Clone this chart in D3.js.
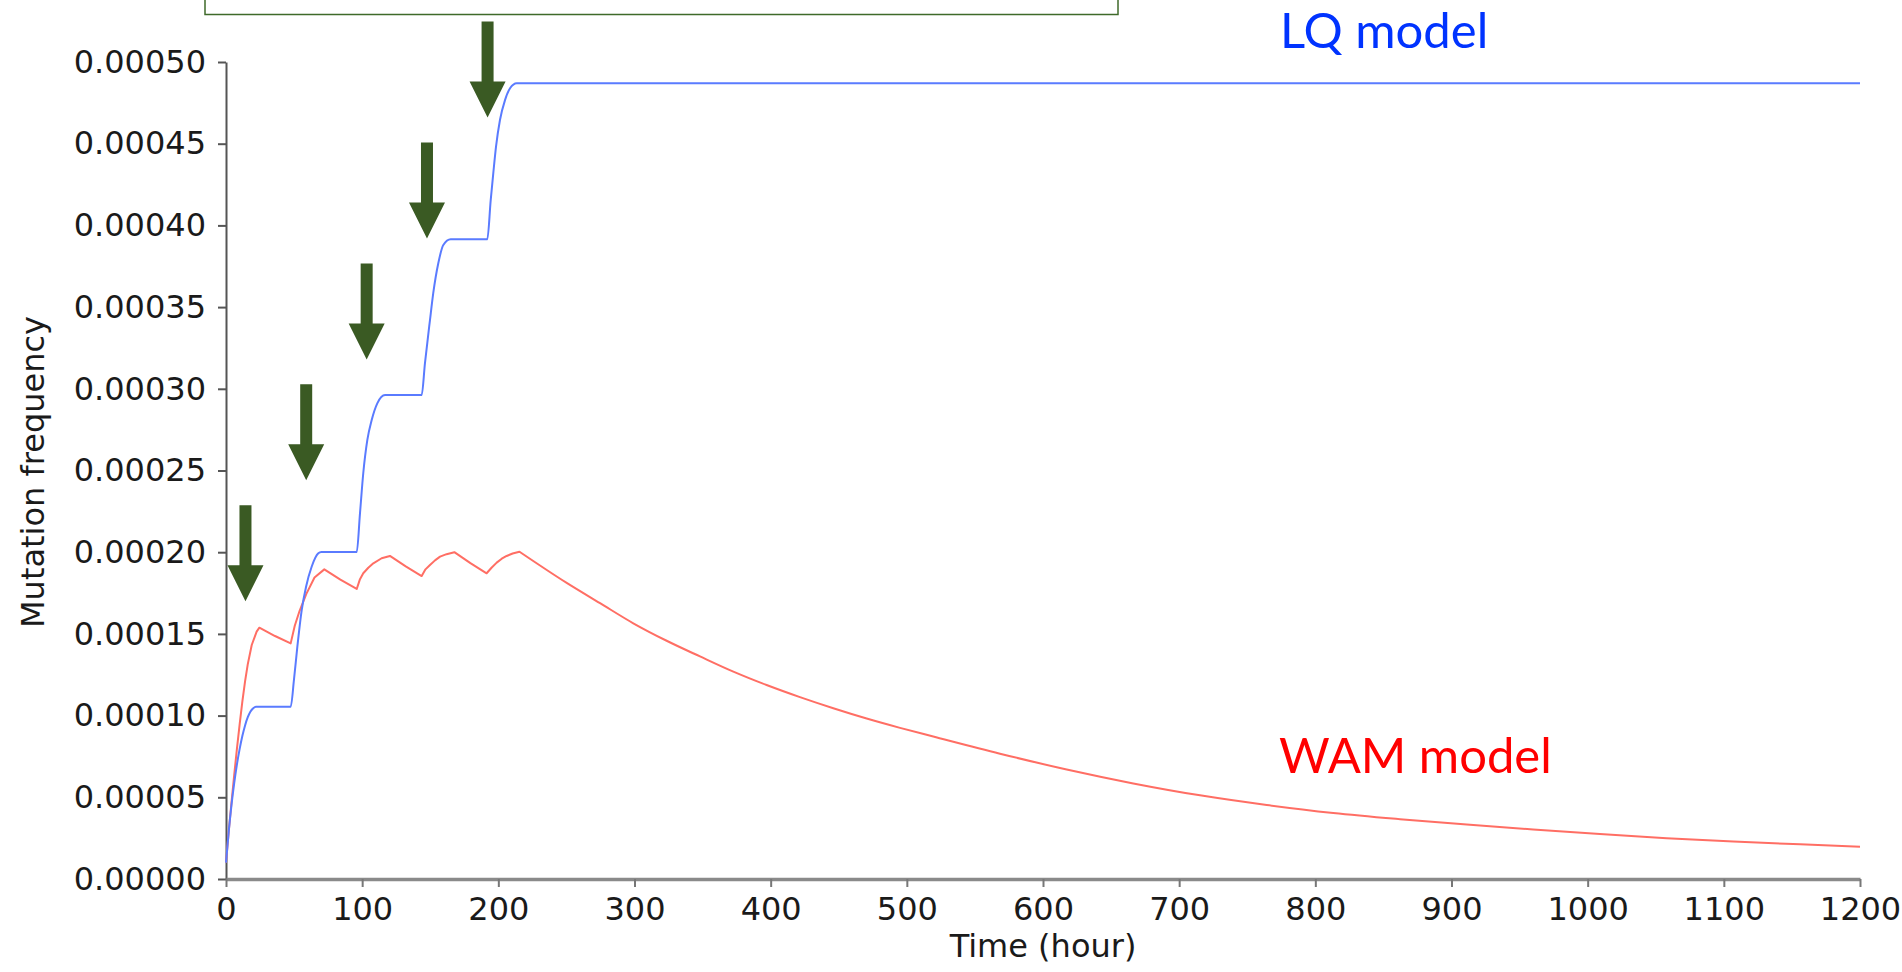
<!DOCTYPE html>
<html>
<head>
<meta charset="utf-8">
<script src="https://cdn.jsdelivr.net/npm/d3@7"></script>
<style>
  html, body { margin: 0; padding: 0; background: #ffffff; }
  svg { display: block; }
</style>
</head>
<body>
<svg id="chart" width="1902" height="972"></svg>
<script>
// ---------------- data ----------------
const xTicks = [0, 100, 200, 300, 400, 500, 600, 700, 800, 900, 1000, 1100, 1200];
const yTicks = [0, 0.00005, 0.0001, 0.00015, 0.0002, 0.00025, 0.0003, 0.00035, 0.0004, 0.00045, 0.0005];

// LQ model (blue)
const lqTime  = [0, 2, 4, 6, 8, 10, 12, 14, 16, 18, 20, 22, 47.5, 49.9, 52.4, 55.6, 58.8, 62.9, 67.8, 70,
                 96, 98.4, 100.8, 103.8, 107, 111.1, 116.8, 119,
                 143.7, 146.1, 149.8, 152.2, 155.9, 159.6, 165,
                 191.9, 194.4, 196.3, 198.3, 201.2, 204.9, 208.6, 213.5, 1200];
const lqValue = [0.00001, 0.000029, 0.000045, 0.0000585, 0.00007, 0.0000795, 0.0000875, 0.000094, 0.000099, 0.0001025, 0.0001045, 0.0001054, 0.0001054,
                 0.0001218, 0.0001422, 0.0001646, 0.0001789, 0.0001911, 0.0001993, 0.0002001,
                 0.0002001, 0.0002238, 0.0002483, 0.0002687, 0.0002809, 0.0002911, 0.0002962, 0.0002962,
                 0.0002962, 0.0003156, 0.0003421, 0.0003585, 0.0003768, 0.000388, 0.0003915,
                 0.0003915, 0.0004155, 0.000432, 0.0004482, 0.0004645, 0.0004767, 0.0004839, 0.000487, 0.000487];

// WAM model (red)
const wamTime  = [0, 2, 4, 6, 8, 10, 12, 14, 16, 18.9, 22.5, 24.5, 36, 47.5,
                  50.5, 54, 59, 65, 72.2, 84, 96,
                  98.4, 100.8, 104.5, 108.2, 114.3, 120.4, 132, 143.7,
                  146.5, 149.8, 153.5, 157.2, 162, 167.7, 179.5, 191.4,
                  195, 198.8, 202.5, 206.1, 210.5, 215.5,
                  250.2, 274.7, 299.1, 323.6, 348.1, 372.6, 397, 421.5, 446, 470.5, 495, 519.4,
                  568.4, 617.4, 666.3, 715.3, 764.3, 813.2, 862.2, 911.2, 960, 1009, 1058, 1107, 1156, 1200];
const wamValue = [0.00001, 0.000029, 0.0000465, 0.0000635, 0.0000795, 0.0000945, 0.0001085, 0.000121, 0.0001315, 0.0001432, 0.0001514, 0.0001538, 0.0001487, 0.0001442,
                  0.000155, 0.000164, 0.0001745, 0.0001845, 0.0001895, 0.0001832, 0.0001775,
                  0.0001835, 0.0001871, 0.0001905, 0.0001932, 0.0001963, 0.0001977, 0.0001913, 0.0001854,
                  0.0001895, 0.0001922, 0.000195, 0.0001973, 0.0001988, 0.0002, 0.0001933, 0.0001871,
                  0.0001905, 0.0001936, 0.000196, 0.0001977, 0.0001992, 0.0002003,
                  0.0001812, 0.0001688, 0.0001565, 0.0001458, 0.0001362, 0.0001269, 0.0001187, 0.0001113, 0.0001045, 0.0000982, 0.0000925, 0.0000872,
                  0.0000767, 0.000067, 0.0000585, 0.0000512, 0.0000453, 0.0000404, 0.0000366, 0.0000333, 0.0000303, 0.0000275, 0.000025, 0.0000229, 0.0000212, 0.0000198];

// irradiation arrows (time, value of arrow tip)
const arrowTime  = [14.3, 58.9, 103.3, 147.6, 192.1];
const arrowValue = [0.00017, 0.000244, 0.000318, 0.000392, 0.000466];

const seriesLabels = ["LQ model", "WAM model"];
const xTitle = "Time (hour)";
const yTitle = "Mutation frequency";

// ---------------- drawing ----------------
const svg = d3.select("#chart");

const x = d3.scaleLinear().domain([0, 1200]).range([226, 1860]);
const y = d3.scaleLinear().domain([0, 0.0005]).range([879, 62]);

const tickFont = "'DejaVu Sans', Verdana, sans-serif";

// top (cut-off) annotation box
svg.append("rect")
  .attr("x", 205).attr("y", -20)
  .attr("width", 913).attr("height", 34.5)
  .attr("fill", "#ffffff")
  .attr("stroke", "#3f6a2a")
  .attr("stroke-width", 1.5);

// Y axis
const yAxis = svg.append("g")
  .attr("transform", `translate(${x(0)},0)`)
  .call(d3.axisLeft(y).tickValues(yTicks).tickFormat(d3.format(".5f"))
        .tickSize(8).tickSizeOuter(0).tickPadding(12));
yAxis.select(".domain").attr("stroke", "#555").attr("stroke-width", 2);
yAxis.selectAll(".tick line").attr("stroke", "#555").attr("stroke-width", 2);
yAxis.selectAll(".tick text")
  .attr("font-family", tickFont).attr("font-size", 32).attr("fill", "#1a1a1a");

// X axis
const xAxis = svg.append("g")
  .attr("transform", `translate(0,${y(0)})`)
  .call(d3.axisBottom(x).tickValues(xTicks).tickFormat(d3.format("d"))
        .tickSize(8).tickSizeOuter(0).tickPadding(10));
xAxis.select(".domain").attr("stroke", "#8a8a8a").attr("stroke-width", 3.5);
xAxis.selectAll(".tick line").attr("stroke", "#777").attr("stroke-width", 2);
xAxis.selectAll(".tick text")
  .attr("font-family", tickFont).attr("font-size", 32).attr("fill", "#1a1a1a");

// axis titles
svg.append("text")
  .attr("x", 1043).attr("y", 957)
  .attr("text-anchor", "middle")
  .attr("font-family", tickFont).attr("font-size", 32).attr("fill", "#1a1a1a")
  .text(xTitle);

svg.append("text")
  .attr("transform", "translate(44,472) rotate(-90)")
  .attr("text-anchor", "middle")
  .attr("font-family", tickFont).attr("font-size", 32).attr("fill", "#1a1a1a")
  .text(yTitle);

// lines
const lqData = lqTime.map((t, i) => [t, lqValue[i]]);
const wamData = wamTime.map((t, i) => [t, wamValue[i]]);
const lastPeak = d3.maxIndex(wamValue);

const lineLinear = d3.line().x(d => x(d[0])).y(d => y(d[1])).curve(d3.curveLinear);
const lineMono = d3.line().x(d => x(d[0])).y(d => y(d[1])).curve(d3.curveMonotoneX);

// irradiation phase (sharp peaks) and decay phase (smooth)
svg.append("path")
  .attr("fill", "none")
  .attr("stroke", "#ff6e64")
  .attr("stroke-width", 2)
  .attr("stroke-linejoin", "round")
  .attr("d", lineLinear(wamData.slice(0, lastPeak + 1)) + lineMono(wamData.slice(lastPeak)).replace(/^M[^A-Za-z]*/, ""));

svg.append("path")
  .datum(lqData)
  .attr("fill", "none")
  .attr("stroke", "#5a7bff")
  .attr("stroke-width", 2)
  .attr("stroke-linejoin", "round")
  .attr("d", lineMono);

// arrows
const arrows = arrowTime.map((t, i) => ({ cx: x(t), ty: y(arrowValue[i]) }));
svg.append("g").selectAll("path")
  .data(arrows)
  .join("path")
  .attr("fill", "#3a5a23")
  .attr("d", a => {
    const cx = a.cx, ty = a.ty;
    return `M${cx - 6},${ty - 96} L${cx + 6},${ty - 96} L${cx + 6},${ty - 36} L${cx + 18},${ty - 36}
            L${cx},${ty} L${cx - 18},${ty - 36} L${cx - 6},${ty - 36} Z`;
  });

// series labels
svg.append("text")
  .attr("x", 1280).attr("y", 48)
  .attr("font-family", "Lato, 'Open Sans', sans-serif").attr("font-size", 49)
  .attr("fill", "#0033ff")
  .text(seriesLabels[0]);

svg.append("text")
  .attr("x", 1279).attr("y", 773)
  .attr("font-family", "Lato, 'Open Sans', sans-serif").attr("font-size", 49)
  .attr("fill", "#ff0000")
  .text(seriesLabels[1]);
</script>
</body>
</html>
